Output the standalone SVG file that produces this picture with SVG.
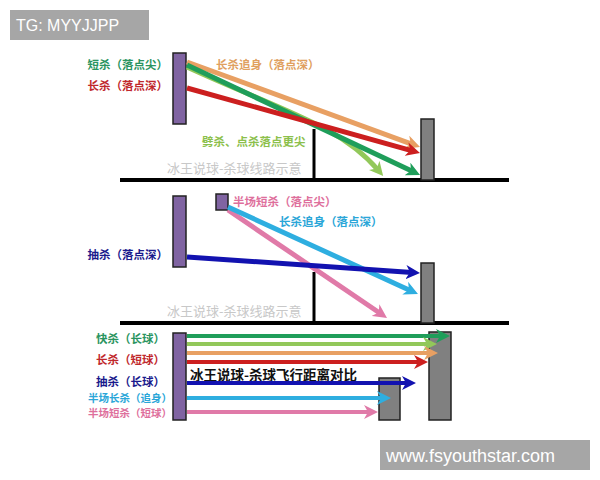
<svg xmlns="http://www.w3.org/2000/svg" width="600" height="480" viewBox="0 0 600 480">
<defs>
<style>
.lbl{font-family:"Noto Sans CJK SC","Noto Sans",sans-serif;font-weight:bold;font-size:11.5px}
.sm{font-size:10.5px}
.wm{font-family:"Noto Sans CJK SC",sans-serif;font-size:13px;fill:#c8c8c8}
.player{fill:#8064a2;stroke:#222;stroke-width:1.5}
.opp{fill:#808080;stroke:#222;stroke-width:1.5}
.ground{stroke:#000;stroke-width:4}
.net{stroke:#000;stroke-width:3}
.a{fill:none;stroke-width:5}
.h{fill:none;stroke-width:4}
</style>
<marker id="mOr" viewBox="0 0 14 14" refX="6" refY="7" markerWidth="14" markerHeight="14" markerUnits="userSpaceOnUse" orient="auto"><path d="M0,0 L14,7 L0,14 L4,7 z" fill="#e8a063"/></marker>
<marker id="mRd" viewBox="0 0 14 14" refX="6" refY="7" markerWidth="14" markerHeight="14" markerUnits="userSpaceOnUse" orient="auto"><path d="M0,0 L14,7 L0,14 L4,7 z" fill="#cc1f1f"/></marker>
<marker id="mDg" viewBox="0 0 14 14" refX="6" refY="7" markerWidth="14" markerHeight="14" markerUnits="userSpaceOnUse" orient="auto"><path d="M0,0 L14,7 L0,14 L4,7 z" fill="#1f9e5a"/></marker>
<marker id="mLg" viewBox="0 0 14 14" refX="6" refY="7" markerWidth="14" markerHeight="14" markerUnits="userSpaceOnUse" orient="auto"><path d="M0,0 L14,7 L0,14 L4,7 z" fill="#92c85a"/></marker>
<marker id="mBl" viewBox="0 0 14 14" refX="6" refY="7" markerWidth="14" markerHeight="14" markerUnits="userSpaceOnUse" orient="auto"><path d="M0,0 L14,7 L0,14 L4,7 z" fill="#1212b0"/></marker>
<marker id="mCy" viewBox="0 0 14 14" refX="6" refY="7" markerWidth="14" markerHeight="14" markerUnits="userSpaceOnUse" orient="auto"><path d="M0,0 L14,7 L0,14 L4,7 z" fill="#2eaee0"/></marker>
<marker id="mPk" viewBox="0 0 14 14" refX="6" refY="7" markerWidth="14" markerHeight="14" markerUnits="userSpaceOnUse" orient="auto"><path d="M0,0 L14,7 L0,14 L4,7 z" fill="#e07aa8"/></marker>
</defs>
<rect width="600" height="480" fill="#fff"/>

<g id="watermark-top">
<rect x="10" y="10" width="139" height="30" fill="#a6a6a6"/>
<text x="16" y="31" font-family="Liberation Sans,Arial,sans-serif" font-size="16" fill="#fff">TG: MYYJJPP</text>
</g>

<!-- Panel 1 -->
<g id="court1">
<line class="ground" x1="120" y1="180" x2="509" y2="180"/>
<line class="net" x1="314" y1="129" x2="314" y2="180"/>
</g>
<g id="player1"><rect class="player" x="173" y="53" width="13" height="71"/></g>
<g id="opp1"><rect class="opp" x="421" y="119" width="13" height="61"/></g>
<g id="labels1">
<text class="lbl" x="168" y="69" text-anchor="end" fill="#2a9460">短杀（落点尖）</text>
<text class="lbl" x="168" y="90" text-anchor="end" fill="#c0282c">长杀（落点深）</text>
<text class="lbl" x="216" y="69" fill="#e0a060">长杀追身（落点深）</text>
<text class="lbl" x="202" y="146" fill="#8cc04c">劈杀、点杀落点更尖</text>
<text class="wm" x="167" y="173">冰王说球-杀球线路示意</text>
</g>

<!-- Panel 2 -->
<g id="court2">
<line class="ground" x1="120" y1="323" x2="509" y2="323"/>
<line class="net" x1="314" y1="272" x2="314" y2="323"/>
</g>
<g id="player2"><rect class="player" x="173" y="196" width="13" height="71"/></g>
<g id="player2b"><rect class="player" x="216" y="194" width="12" height="16"/></g>
<g id="opp2"><rect class="opp" x="421" y="263" width="13" height="60"/></g>
<g id="labels2">
<text class="lbl" x="168" y="259" text-anchor="end" fill="#1a1a8c">抽杀（落点深）</text>
<text class="lbl" x="233" y="206" fill="#de6f9c">半场短杀（落点尖）</text>
<text class="lbl" x="279" y="226" fill="#2aa6d8">长杀追身（落点深）</text>
<text class="wm" x="167" y="316">冰王说球-杀球线路示意</text>
</g>

<!-- Panel 3 -->
<g id="player3"><rect class="player" x="173" y="333" width="13" height="87"/></g>
<g id="opp3a"><rect class="opp" x="429" y="332" width="22" height="88"/></g>
<g id="opp3b"><rect class="opp" x="379" y="378" width="21" height="42"/></g>
<g id="labels3">
<text class="lbl" x="165" y="343" text-anchor="end" fill="#2a9460">快杀（长球）</text>
<text class="lbl" x="165" y="364" text-anchor="end" fill="#c0282c">长杀（短球）</text>
<text class="lbl" x="165" y="386" text-anchor="end" fill="#1a1a8c">抽杀（长球）</text>
<text class="lbl sm" x="172" y="402" text-anchor="end" fill="#2aa6d8">半场长杀（追身）</text>
<text class="lbl sm" x="172" y="417" text-anchor="end" fill="#de6f9c">半场短杀（短球）</text>
<text x="190" y="380" font-family="Noto Sans CJK SC,sans-serif" font-weight="bold" font-size="13.5" fill="#111">冰王说球-杀球飞行距离对比</text>
</g>

<g id="connectors">
<line class="a" stroke="#e8a063" x1="187" y1="62" x2="412.5" y2="144.3" marker-end="url(#mOr)"/>
<path class="a" stroke="#92c85a" d="M187,67 C280,110 340,125 378,170" marker-end="url(#mLg)"/>
<line class="a" stroke="#1f9e5a" x1="187" y1="65" x2="412.8" y2="171.6" marker-end="url(#mDg)"/>
<line class="a" stroke="#cc1f1f" x1="187" y1="88" x2="412.3" y2="150.8" marker-end="url(#mRd)"/>

<line class="a" stroke="#e07aa8" x1="228" y1="210" x2="380.4" y2="313.5" marker-end="url(#mPk)"/>
<line class="a" stroke="#2eaee0" x1="228" y1="207" x2="410.7" y2="290.7" marker-end="url(#mCy)"/>
<line class="a" stroke="#1212b0" x1="187" y1="257" x2="412" y2="272.5" marker-end="url(#mBl)"/>

<line class="h" stroke="#1f9e5a" x1="187" y1="336" x2="442" y2="336" marker-end="url(#mDg)"/>
<line class="h" stroke="#92c85a" x1="187" y1="344" x2="429" y2="344" marker-end="url(#mLg)"/>
<line class="h" stroke="#e8a063" x1="187" y1="353" x2="430" y2="353" marker-end="url(#mOr)"/>
<line class="h" stroke="#cc1f1f" x1="187" y1="362" x2="420" y2="362" marker-end="url(#mRd)"/>
<line class="h" stroke="#1212b0" x1="187" y1="383" x2="408" y2="383" marker-end="url(#mBl)"/>
<line class="h" stroke="#2eaee0" x1="187" y1="398" x2="383" y2="398" marker-end="url(#mCy)"/>
<line class="h" stroke="#e07aa8" x1="187" y1="412" x2="370" y2="412" marker-end="url(#mPk)"/>
</g>

<g id="watermark-bottom">
<rect x="380" y="440" width="210" height="30" fill="#a6a6a6"/>
<text x="386" y="462" font-family="Liberation Sans,Arial,sans-serif" font-size="18" fill="#fff">www.fsyouthstar.com</text>
</g>
</svg>
